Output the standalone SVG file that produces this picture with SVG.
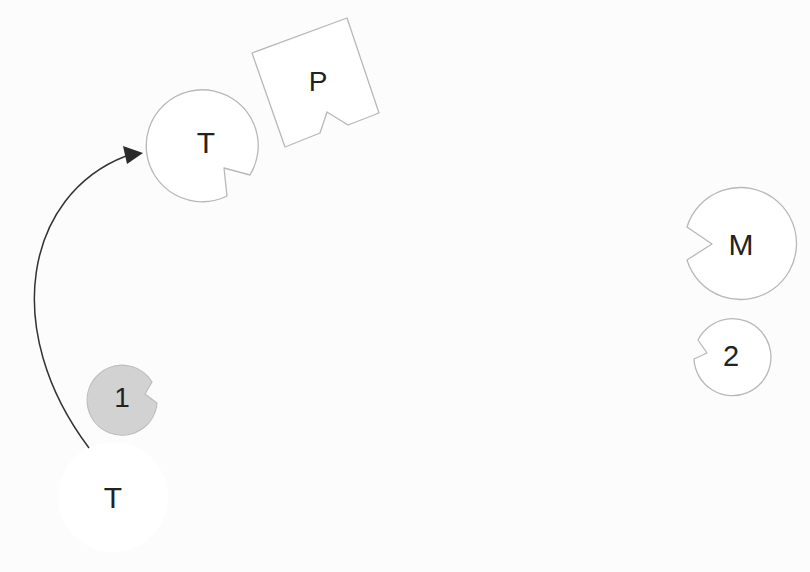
<svg xmlns="http://www.w3.org/2000/svg" width="810" height="572" viewBox="0 0 810 572">
  <style>
    .shape { fill: #ffffff; stroke: #b8b8b8; stroke-width: 1.3; stroke-linejoin: round; }
    .gray { fill: #d2d2d2; stroke: #bdbdbd; stroke-width: 1.2; }
    .ghost { fill: #ffffff; stroke: none; }
    .lbl { font-family: "Liberation Sans", Arial, Helvetica, sans-serif; font-size: 30px; fill: #222222; text-anchor: middle; }
    .conn { fill: none; stroke: #333333; stroke-width: 1.5; }
    .head { fill: #2a2a2a; }
  </style>
  <rect x="0" y="0" width="810" height="572" fill="#fcfcfc"/>

  <g id="node-P">
    <path class="shape" d="M252,53 L347,18 L379,113 L348,125 L327,112 L320,133 L285,147 Z"/>
    <text class="lbl" x="318" y="91" style="font-size:28px">P</text>
  </g>

  <g id="node-T-top">
    <path class="shape" d="M227,196 A56,56 0 1 1 250,175 L224,168 Z"/>
    <text class="lbl" x="206" y="153">T</text>
  </g>

  <g id="node-M">
    <path class="shape" d="M687,227 A56,56 0 1 1 687,260 L712,244 Z"/>
    <text class="lbl" x="741" y="255">M</text>
  </g>

  <g id="node-2">
    <path class="shape" d="M698,340 A38.5,38.5 0 1 1 694,359 L707,353 Z"/>
    <text class="lbl" x="731" y="366" style="font-size:29px">2</text>
  </g>

  <g id="node-1">
    <path class="gray" d="M157,403 A35,35 0 1 1 152,382 L145,394 Z"/>
    <text class="lbl" x="122" y="407" style="font-size:28px">1</text>
  </g>

  <g id="node-T-bottom">
    <circle class="ghost" cx="113" cy="497" r="55"/>
    <text class="lbl" x="113" y="508">T</text>
  </g>

  <g id="connectors">
    <path class="conn" d="M89,448 C0,330 25,195 126,156"/>
    <polygon class="head" points="143,153 123,146 127,164"/>
  </g>
</svg>
